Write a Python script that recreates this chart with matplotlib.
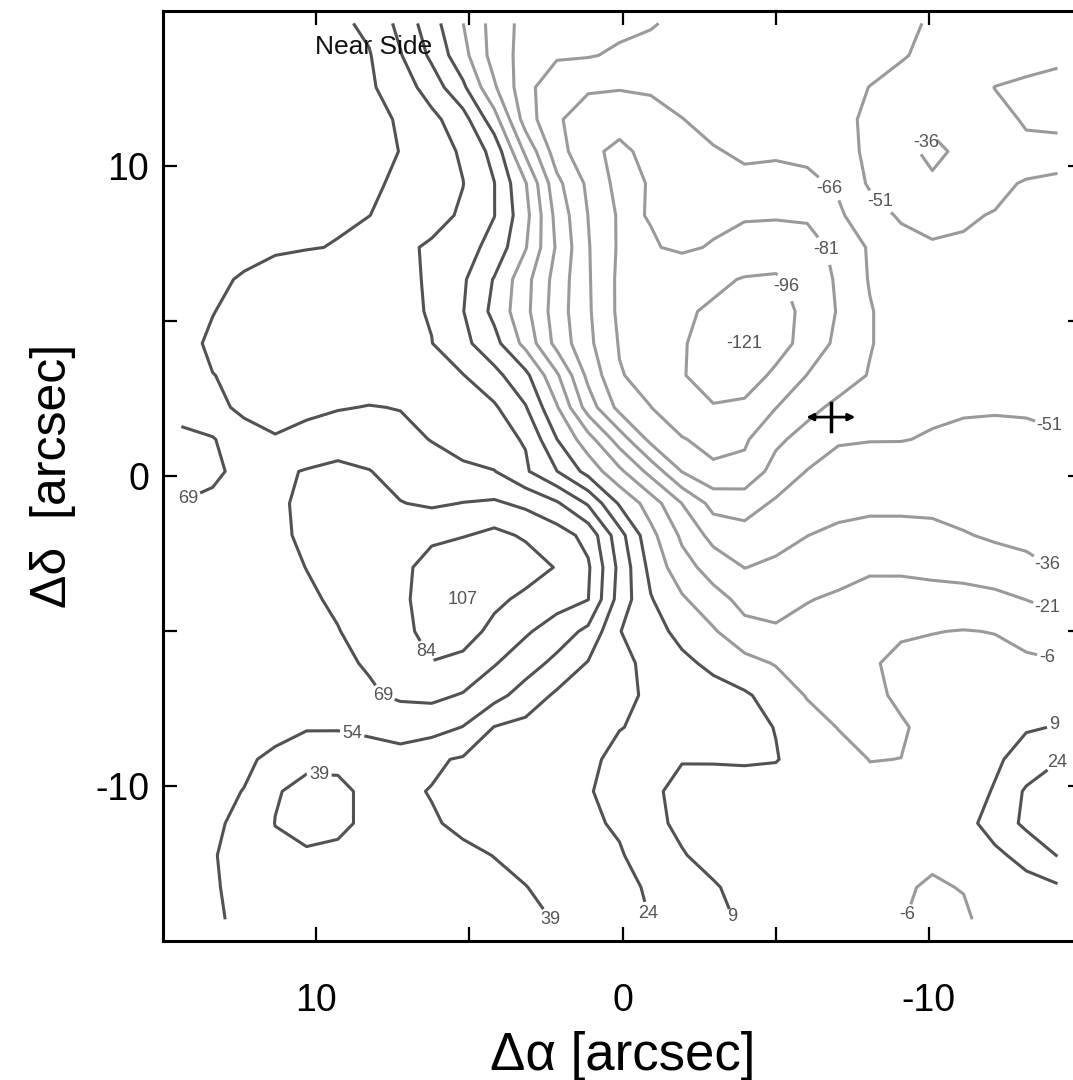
import numpy as np
import matplotlib.pyplot as plt

plt.rcParams['font.family'] = ['Liberation Sans', 'DejaVu Sans']

# offsets of the velocity grid nodes [arcsec]; east to the left
ra_nodes = np.linspace(14.4, -14.2, 29)
dec_nodes = np.linspace(14.6, -14.3, 29)

# line-of-sight velocity [km/s] at each node, rows from north to south
vel_rows = [
    [60, 60, 60, 59, 58, 57, 51, 35, 15, -5.8, -27, -41, -45, -46, -48, -50, -54, -57, -59, -59, -58, -57, -55, -53, -50, -47, -44, -42, -40],
    [61, 61, 61, 60, 59, 57, 55, 40, 21, -1, -27, -42, -49, -50, -53, -55, -57, -59, -59, -59, -58, -57, -55, -52, -48, -45, -42, -40, -38],
    [62, 62, 62, 61, 60, 59, 56, 47, 32, 12, -19, -46, -62, -65, -65, -64, -61, -60, -59, -58, -57, -55, -50.8, -47, -45, -42, -35.8, -34, -33],
    [63, 63, 63, 62, 61, 60, 57, 53, 43, 30, 0.3, -43, -65, -70, -76, -72, -66.3, -62, -60, -58, -57, -54, -49, -44, -39, -41, -39, -35, -33],
    [63, 63, 63, 62, 61, 60, 57, 53.8, 46, 37, 19, -24, -59, -78, -84, -77, -73, -67, -64, -64, -63, -57, -48, -40, -33, -39, -40, -38, -40],
    [62, 62, 62, 61, 60, 59, 56, 52, 46, 39.3, 24.3, -5, -47, -69, -86, -80, -74, -71, -69, -71, -69, -64, -49, -45, -38, -44, -46, -53, -56],
    [61, 61, 59, 57, 56, 55, 54.2, 49, 44, 37, 24.3, -1, -41, -66.2, -83, -80.5, -77, -78, -80, -80, -80, -68, -58, -49, -48, -49, -52, -55, -56],
    [60, 59, 57, 55, 54.5, 53.6, 47, 42, 37, 30, 19, -5, -38, -65, -83, -82, -79, -82, -85, -87, -84, -79, -64, -57, -52, -53, -55, -57, -57],
    [58, 56, 53, 51, 48, 46, 43, 41, 38, 26, 8, -16, -42, -64.5, -84, -88, -90, -93, -97, -98, -90, -79, -65, -59, -55, -55, -56, -57, -56],
    [57, 54.2, 52, 50, 48, 46, 44, 42, 38, 24.5, 5, -17, -43.5, -64, -84, -90, -94, -98, -108, -104, -91, -80, -67, -59, -56, -55, -55, -55, -55],
    [56, 53, 51, 49, 47, 45, 43, 41, 39.3, 28, 14, -10.7, -41, -62.5, -82, -88, -94, -106, -121, -104, -89, -78, -67, -59, -56, -55, -55, -55, -54],
    [57, 54.1, 53, 51.5, 50, 48, 46, 44, 42, 39.5, 28.4, 13, -18.7, -55, -80, -86, -95, -103, -106, -92, -80.7, -74, -65, -59, -56, -55, -55, -55, -55],
    [66, 58, 51, 51.5, 52, 53, 54.6, 53.5, 49, 44, 41, 25, -4.6, -43, -70.6, -80.8, -92, -95, -92, -81.3, -70.8, -62, -57, -54, -53, -52, -52, -52, -53],
    [71, 70, 60, 54.5, 57, 63, 61, 58, 53.5, 48, 43, 38, 9.2, -15, -43, -70, -80, -86, -83, -69.2, -60, -52, -51.5, -51.5, -50, -49, -48, -49, -50],
    [72, 71, 66, 66, 70, 72, 69.5, 64, 60, 57, 54.5, 41, 24.3, 3.8, -17.6, -41, -66.5, -78, -77, -60, -50.5, -47, -45, -44, -43.5, -44, -44.5, -45, -46],
    [68.8, 67, 65, 66.5, 72, 75, 73, 69.5, 67, 69.4, 71, 66, 56, 37.2, 7.2, -13, -36.2, -56, -57, -49, -45, -42, -40, -40, -40, -41.5, -43, -44.5, -45],
    [66, 65, 64, 65.5, 72, 75, 77, 79, 81, 83, 88, 82, 76, 64.3, 29.8, -1.6, -23.7, -41, -46, -41.5, -36.2, -32, -30, -30, -31.5, -35, -38, -39, -40],
    [64, 64, 64, 65, 69.2, 73, 76, 80, 90, 100, 100, 92, 83, 71, 35, 4.5, -15.4, -27, -36.3, -33, -29, -25, -22.5, -23, -24.4, -26, -29, -33, -36.6],
    [63, 63, 63.5, 64.5, 67, 71, 75, 79, 95, 107, 88, 80, 74.8, 69.3, 33, 10, -4, -15.9, -25, -25, -21.5, -19.4, -17, -15.7, -16, -16, -17.3, -21.2, -25.5],
    [62, 62, 62.5, 63.5, 65.5, 68.5, 74, 79, 90, 92, 79, 70.9, 62, 50.5, 24.5, 15, 4.5, -4.3, -17, -19.6, -17.5, -16, -16, -7, -6.4, -5.5, -6.4, -10.6, -13.7],
    [61, 61, 61.5, 62.5, 64, 67, 70, 76, 83.5, 79, 70, 60.6, 50, 38, 28.3, 19.9, 12.4, 5.6, -0.8, -7, -11.8, -12.8, -7, -4, -2, -1.5, -2, -3.5, -5],
    [60, 60, 60, 61, 62, 64, 67.5, 71, 72, 68, 59, 47.6, 36.6, 31.7, 26.7, 22.3, 18.5, 14.7, 10.8, 3.5, -7, -10, -10, -3, 0, 1, 2, 3, 5],
    [59.5, 59, 58, 57, 55.5, 55.5, 57, 60.5, 60, 53.5, 38.5, 35, 31.6, 28, 24.5, 21.3, 18.2, 15, 11.8, 8.7, 0.6, -6.5, -9, -7.8, -1, 2, 5, 8, 9.5],
    [59, 57.5, 55.5, 52, 42, 41.5, 47, 48, 41, 37.6, 34.6, 33, 30, 27, 20, 13, 9.5, 9.7, 10, 9.5, 4.6, -0.5, -6.3, -5.9, -2, 3, 7, 14, 23],
    [58, 56, 53.8, 40, 35.5, 36.5, 41.5, 41, 38.5, 35.9, 33.3, 30.6, 27.7, 25, 19, 11, 6, 5, 5, 4.5, 1, 0, -2.5, -2, 0, 3, 10, 26, 33],
    [57, 56, 51, 38.7, 35, 36.5, 41.5, 42, 40, 37, 34.2, 31.4, 28.6, 25.9, 22.5, 12.1, 6.5, 5, 4, 3, 2, 1, 0, -1, -1.5, 4, 15.2, 27, 35],
    [56, 54.7, 50, 42, 40.5, 41.5, 45, 46, 44, 41, 38.8, 35.4, 32.1, 28.7, 25.1, 18.3, 9.8, 5, 3, 1.5, 0.5, -0.5, -2, -3, -4.5, -3, 6, 13.7, 24.5],
    [56, 55, 51, 47, 45, 45.5, 47, 47.5, 46, 43.5, 41.5, 39.3, 35.3, 31.3, 27.1, 22.6, 16.4, 10.2, 5, 3, 1, -1, -3, -5, -7, -5.6, -1, 4, 7],
    [56, 55, 52.5, 49, 48, 47.5, 48, 48, 47, 45, 43, 41, 38.5, 33.6, 28.7, 23.8, 18.2, 12.6, 7, 4, 1.5, -1, -3.5, -5.5, -9, -7.5, -2, 2, 4],
]

levels = [-96, -81, -66, -51, -36, -21, -6, 9, 24, 39, 54, 69, 84]

# where each contour gets its number written
label_spots = [
    (7.84, -7.13), (13.9, -1.3), (6.57, -5.77), (8.82, -8.29), (9.9, -9.58),
    (1.73, -14.0), (-1.31, -14.0), (-13.95, -8.9), (-4.08, -14.0), (-13.95, -7.6),
    (-8.9, -14.0), (-14.0, -5.29), (-14.0, -3.9), (-14.0, -2.6), (-10.0, 10.7),
    (-14.0, 1.8), (-8.3, 8.74), (-6.6, 9.16), (-6.63, 7.29), (-5.33, 6.1),
]

# kinematic centre with its uncertainty
centre_x, centre_y = -6.8, 1.9
centre_dx, centre_dy = 0.8, 0.45

X, Y = np.meshgrid(ra_nodes, dec_nodes)
V = np.array(vel_rows, dtype=float)

fig = plt.figure(figsize=(10.73, 10.80), dpi=100)
ax = fig.add_axes([0.1519, 0.1287, 0.8565, 0.8611])

line_cols = ['#9a9a9a' if lv < 0 else '#525252' for lv in levels]
cs = ax.contour(X, Y, V, levels=levels, colors=line_cols, linewidths=2.2)
labels = ax.clabel(cs, fmt='%d', fontsize=13, colors='#555555', inline=True,
                   inline_spacing=3, manual=label_spots)
for t in labels:
    t.set_rotation(0)

# mark the velocity extremes with their values
for pick in (np.argmax, np.argmin):
    r, c = np.unravel_index(pick(V), V.shape)
    ax.text(X[r, c], Y[r, c], '%d' % V[r, c], fontsize=13, color='#555555',
            ha='center', va='center')

# centre marker: arrowed horizontal bar plus vertical tick
ax.annotate('', xy=(centre_x - centre_dx, centre_y),
            xytext=(centre_x + centre_dx, centre_y),
            arrowprops=dict(arrowstyle='<|-|>', color='black', lw=2,
                            mutation_scale=10, shrinkA=0, shrinkB=0))
ax.plot([centre_x, centre_x], [centre_y - centre_dy, centre_y + centre_dy],
        color='black', lw=2.5)

ax.text(10.05, 13.6, 'Near Side', fontsize=19, color='#111111',
        ha='left', va='baseline')

ax.set_xlim(15, -15)
ax.set_ylim(-15, 15)
ax.set_xticks([10, 5, 0, -5, -10])
ax.set_xticklabels(['10', '', '0', '', '-10'])
ax.set_yticks([10, 5, 0, -5, -10])
ax.set_yticklabels(['10', '', '0', '', '-10'])
ax.tick_params(direction='in', top=True, right=True, length=10, width=1.6,
               labelsize=27, colors='black')
ax.tick_params(axis='x', pad=30)
ax.tick_params(axis='y', pad=10)
for sp in ax.spines.values():
    sp.set_linewidth(2.2)

ax.set_xlabel('Δα [arcsec]', fontsize=38, labelpad=9)
ax.set_ylabel('Δδ  [arcsec]', fontsize=36, labelpad=14)

fig.savefig('out.png', dpi=100)
